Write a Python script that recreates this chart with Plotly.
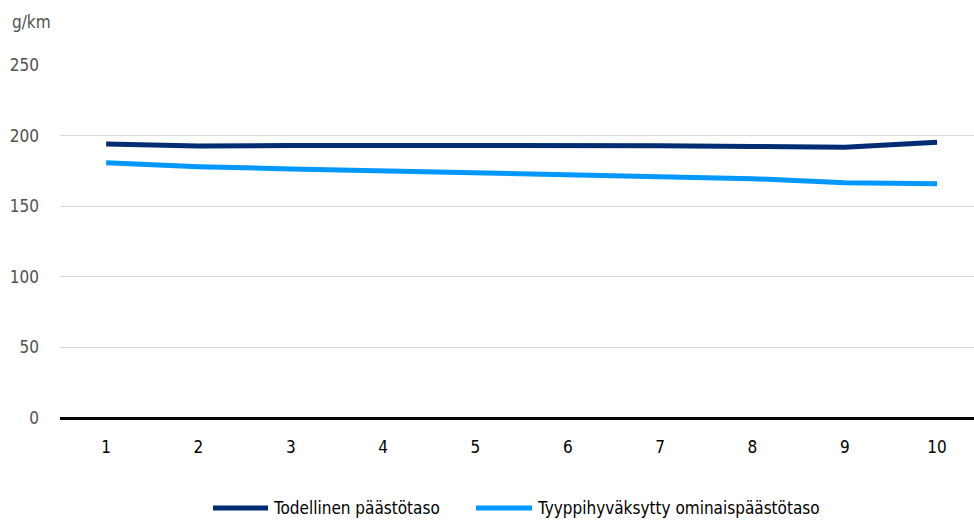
import plotly.graph_objects as go

# Vehicle age / year index on the x-axis
years = [1, 2, 3, 4, 5, 6, 7, 8, 9, 10]

# CO2 emission levels, g/km
todellinen = [194.1, 192.6, 193.0, 193.1, 193.2, 193.3, 192.9, 192.3, 191.7, 195.3]
tyyppihyvaksytty = [180.8, 178.0, 176.4, 174.9, 173.7, 172.5, 170.9, 169.5, 166.6, 165.9]

series_names = ["Todellinen päästötaso", "Tyyppihyväksytty ominaispäästötaso"]
series_colors = ["#002D72", "#0098FF"]

y_ticks = [0, 50, 100, 150, 200, 250]

FONT = "Liberation Sans Narrow, DejaVu Sans Condensed, Arial Narrow, sans-serif"

# Plot area in pixels (figure is 974 x 523)
W, H = 974, 523
L, R, T, B = 60, 0, 65, 105
PW, PH = W - L - R, H - T - B


def px_x(px):
    return (px - L) / PW


def px_y(py):
    return (H - B - py) / PH


fig = go.Figure()
for name, vals, col in zip(series_names, [todellinen, tyyppihyvaksytty], series_colors):
    fig.add_trace(go.Scatter(
        x=years, y=vals, name=name, mode="lines",
        line=dict(color=col, width=5, shape="linear"),
    ))

# Legend drawn below the plot: a short swatch followed by the series name
legend_y = px_y(508)
legend_items = [(213, 268, 271), (476, 532, 535)]
shapes = []
annotations = []
for (x0, x1, tx), name, col in zip(legend_items, series_names, series_colors):
    shapes.append(dict(
        type="line", xref="paper", yref="paper",
        x0=px_x(x0), x1=px_x(x1), y0=legend_y, y1=legend_y,
        line=dict(color=col, width=5),
    ))
    annotations.append(dict(
        text=name, xref="paper", yref="paper",
        x=px_x(tx), y=legend_y, xanchor="left", yanchor="middle",
        showarrow=False, font=dict(family=FONT, size=17, color="#000000"),
    ))

annotations.append(dict(
    text="g/km", xref="paper", yref="paper",
    x=-0.055, y=1.122, xanchor="left", yanchor="middle",
    showarrow=False, font=dict(family=FONT, size=17, color="#505050"),
))

fig.update_layout(
    width=W, height=H,
    margin=dict(l=L, r=R, t=T, b=B, autoexpand=False),
    paper_bgcolor="white", plot_bgcolor="white",
    font=dict(family=FONT, size=17, color="#000000"),
    showlegend=False,
    xaxis=dict(
        range=[0.5, 10.4], tickmode="array", tickvals=years,
        ticktext=[str(v) for v in years],
        showgrid=False, zeroline=False, showline=False, ticks="",
        tickfont=dict(family=FONT, size=17, color="#000000"),
        ticklabelstandoff=17, automargin=False,
        fixedrange=True,
    ),
    yaxis=dict(
        range=[0, 250], tickmode="array", tickvals=y_ticks,
        showgrid=True, gridcolor="#D9D9D9", gridwidth=1,
        zeroline=True, zerolinecolor="#000000", zerolinewidth=3,
        showline=False, ticks="", ticklabelstandoff=20,
        tickfont=dict(family=FONT, size=17, color="#505050"),
        automargin=False, fixedrange=True,
    ),
    shapes=shapes,
    annotations=annotations,
)

fig.write_html("out.html")
